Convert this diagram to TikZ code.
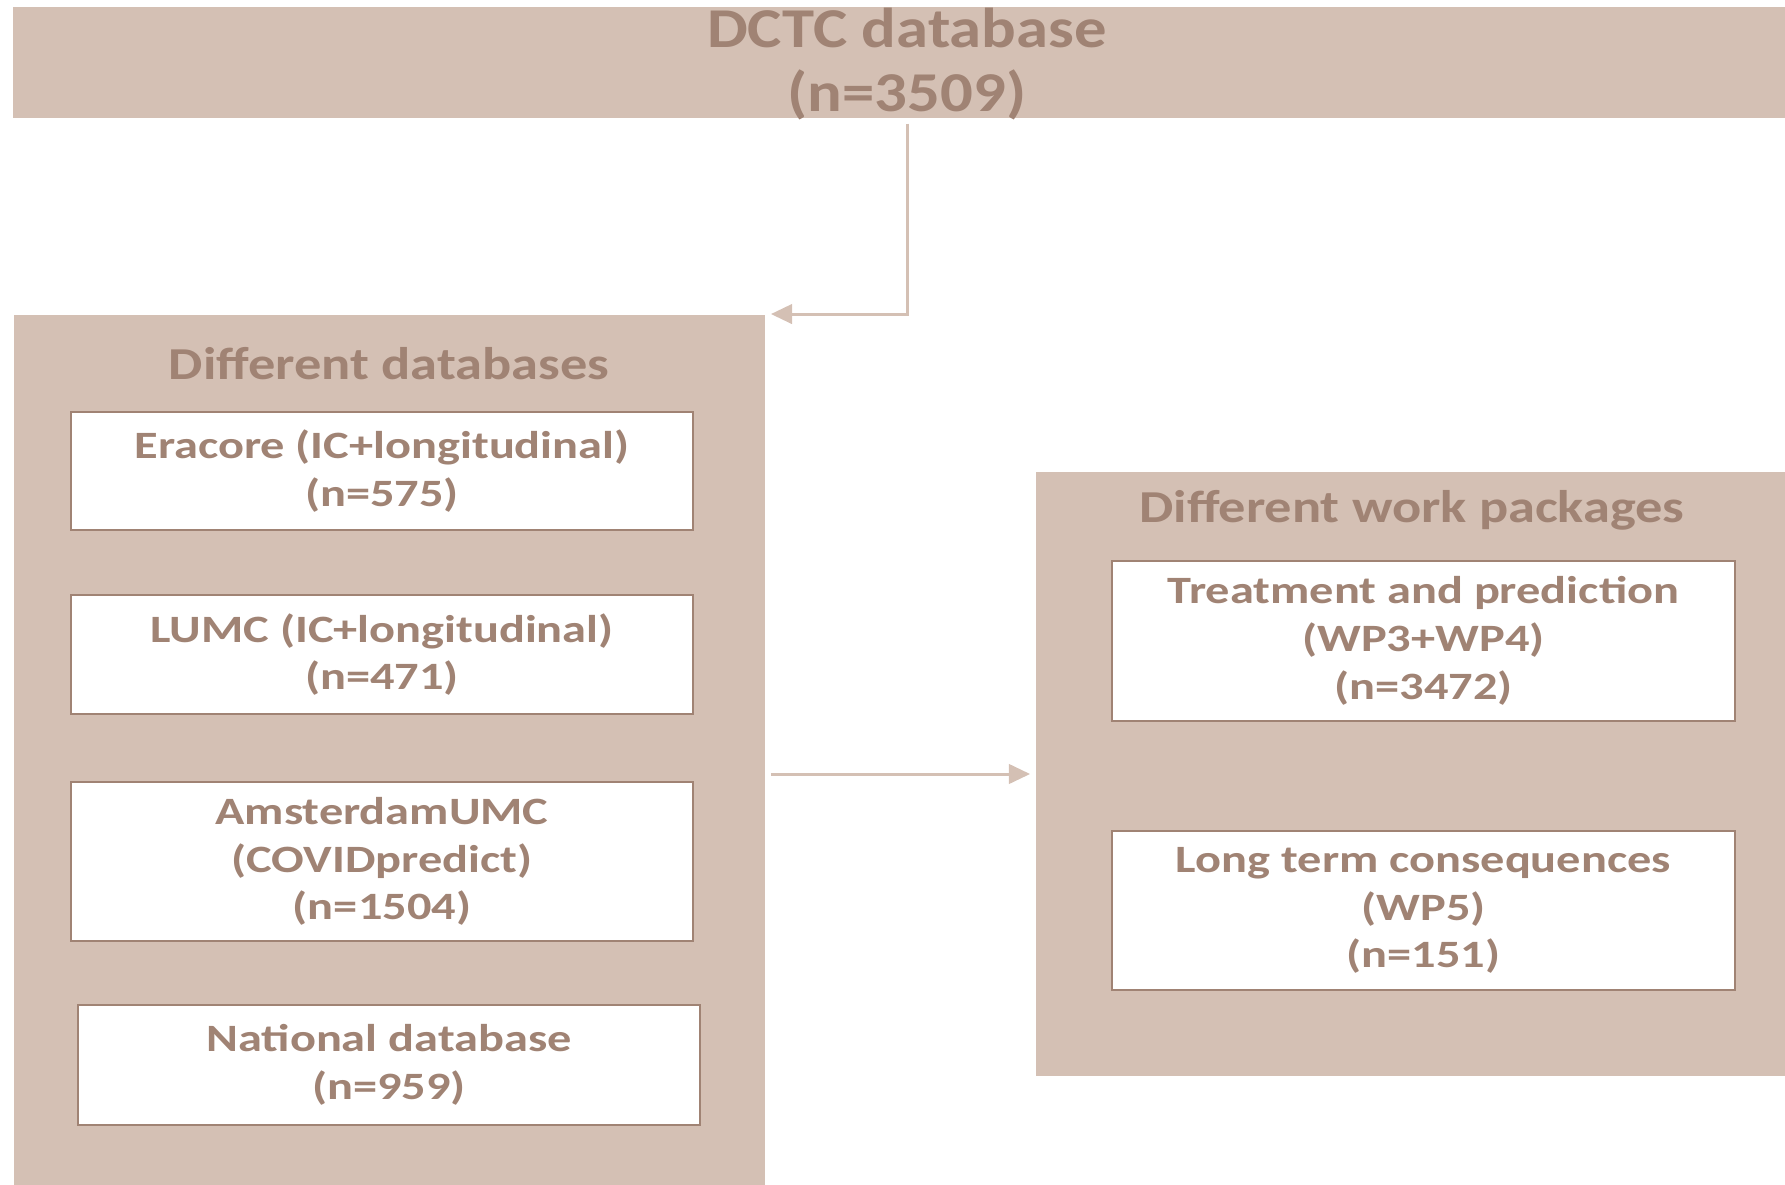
\documentclass[tikz,border=0pt]{standalone}
\usepackage{fontspec}
\setmainfont{Carlito}
\newfontfamily\topfont{Carlito}[FakeStretch=1.15]
\newfontfamily\titlefont{Carlito}[FakeStretch=1.19]
\newfontfamily\boxfont{Carlito}[FakeStretch=1.25]
\usetikzlibrary{arrows.meta}
\definecolor{panelfill}{RGB}{212,192,180}
\definecolor{textbrown}{RGB}{160,131,116}
\tikzset{
  panel/.style={fill=panelfill, draw=none, inner sep=0pt},
  paneltitle/.style={text=textbrown, font=\titlefont\fontsize{13}{15}\selectfont\bfseries},
  dbbox/.style={draw=textbrown, line width=0.5pt, fill=white, align=center, text=textbrown,
    font=\boxfont\fontsize{11}{13.6}\selectfont\bfseries, minimum width=6.22cm, inner sep=0pt},
  flow/.style={draw=panelfill, line width=0.85pt, -{Triangle[length=6pt,width=5.5pt]}}
}
\begin{document}
\begin{tikzpicture}[x=0.01cm, y=-0.01cm]
  \useasboundingbox (0,0) rectangle (1785,1185);
  \clip (0,0) rectangle (1785,1185);

  % 上の帯
  \node [panel, minimum width=17.86cm, minimum height=1.11cm] (dctc) at (907,62.5) {};
  \node [align=center, text=textbrown, inner sep=0pt,
    font=\topfont\fontsize{16}{18}\selectfont\bfseries] (dctctext) at (907,64) {DCTC database\\(n=3509)};

  % 左のパネル
  \node [panel, minimum width=7.51cm, minimum height=8.85cm] (dbpanel) at (389.5,757.5) {};
  \node [paneltitle] (dbtitle) at (389,364) {Different databases};
  \node [dbbox, minimum height=1.18cm] (eracore) at (382,471) {Eracore (IC+longitudinal)\\(n=575)};
  \node [dbbox, minimum height=1.19cm] (lumc) at (382,654.5) {LUMC (IC+longitudinal)\\(n=471)};
  \node [dbbox, minimum height=1.59cm] (amc) at (382,861.5) {AmsterdamUMC\\(COVIDpredict)\\(n=1504)};
  \node [dbbox, minimum height=1.20cm] (national) at (389,1065) {National database\\(n=959)};

  % 右のパネル
  \node [panel, minimum width=7.64cm, minimum height=6.04cm] (wppanel) at (1418,774) {};
  \node [paneltitle] (wptitle) at (1412,510) {Different work packages};
  \node [dbbox, minimum height=1.60cm] (wpthree) at (1423.5,641) {Treatment and prediction\\(WP3+WP4)\\(n=3472)};
  \node [dbbox, minimum height=1.59cm] (wpfive) at (1423.5,910.5) {Long term consequences\\(WP5)\\(n=151)};

  \draw [flow, shorten <=0.05cm, shorten >=0.05cm] (dctc.south) |- (dbpanel.north east);
  \draw [flow, shorten <=0.05cm, shorten >=0.05cm] (dbpanel.east |- wppanel.west) -- (wppanel.west);
\end{tikzpicture}
\end{document}
